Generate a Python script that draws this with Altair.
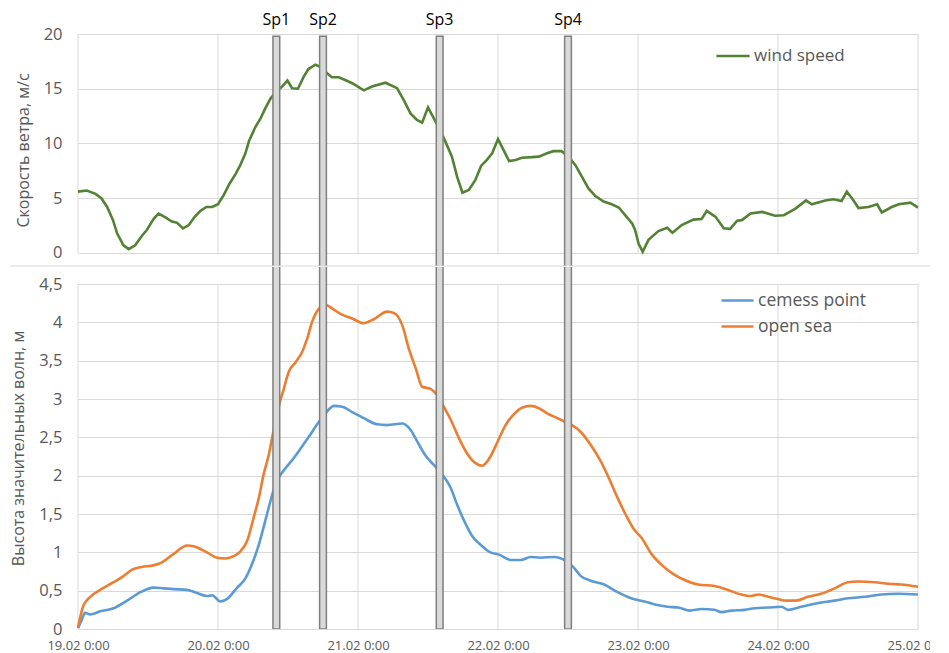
import altair as alt
import pandas as pd

# ---------------- data ----------------
DAY_HOURS = [0, 24, 48, 72, 96, 120, 144]
DAY_LABELS = ['19.02 0:00', '20.02 0:00', '21.02 0:00', '22.02 0:00',
              '23.02 0:00', '24.02 0:00', '25.02 0:00']

SP_NAMES = ['Sp1', 'Sp2', 'Sp3', 'Sp4']
SP_HOURS = [34, 42, 62, 84]

WIND_H = [0, 1.5, 3, 4, 5, 6, 6.7, 7.8, 8.7, 9.8, 11, 11.8, 13, 13.8, 15, 16, 17, 18, 19, 20,
          21, 22, 23, 24, 25, 26, 27, 27.8, 28.7, 29.3, 30.4, 31.3, 32.1, 33, 34.1, 35, 35.9,
          36.7, 37.7, 38.7, 39.5, 40.7, 41.5, 42.5, 43.5, 44.7, 45.8, 47, 47.5, 49, 50.4,
          52.7, 54.7, 55.8, 57, 58.1, 59, 60, 61, 62.1, 63, 64.1, 65, 65.9, 67, 68.1, 69.1,
          70.1, 71, 72, 73, 73.9, 75, 76.1, 77.8, 79, 80.4, 81.5, 82.9, 84.1, 85.3, 86.4,
          87.5, 88.7, 90.1, 91.5, 92.7, 93.8, 95, 95.5, 96.1, 96.8, 97.8, 99.5, 101, 101.9,
          103.5, 105.5, 106.9, 107.8, 109.3, 110.7, 111.8, 113, 113.8, 115.3, 117.3, 119.5,
          121, 123, 124.8, 125.8, 128.1, 129.5, 130.9, 131.8, 132.8, 133.8, 135.5, 137,
          137.8, 139.5, 140.7, 142.7, 144]
WIND_V = [5.6, 5.7, 5.4, 5.0, 4.2, 3.0, 1.8, 0.7, 0.35, 0.7, 1.6, 2.1, 3.15, 3.6, 3.25, 2.9,
          2.75, 2.25, 2.55, 3.3, 3.85, 4.2, 4.2, 4.45, 5.3, 6.35, 7.2, 8.0, 9.1, 10.2, 11.5,
          12.3, 13.2, 14.1, 14.8, 15.2, 15.75, 15.05, 15.0, 16.1, 16.8, 17.2, 17.0, 16.5,
          16.05, 16.05, 15.8, 15.5, 15.35, 14.85, 15.2, 15.55, 15.05, 14.0, 12.75, 12.15,
          11.9, 13.3, 12.3, 11.2, 10.15, 8.8, 6.95, 5.5, 5.75, 6.65, 7.95, 8.5, 9.1, 10.4,
          9.35, 8.4, 8.5, 8.7, 8.75, 8.8, 9.1, 9.3, 9.3, 8.8, 8.0, 6.95, 5.9, 5.2, 4.7, 4.45,
          4.15, 3.45, 2.7, 2.1, 0.85, 0.1, 1.2, 2.0, 2.3, 1.85, 2.55, 3.05, 3.1, 3.85, 3.3,
          2.25, 2.2, 2.95, 3.0, 3.6, 3.75, 3.4, 3.45, 4.05, 4.8, 4.45, 4.8, 4.9, 4.75, 5.6,
          4.9, 4.1, 4.2, 4.45, 3.7, 4.2, 4.45, 4.6, 4.15]

OPEN_H = [0, 0.5, 0.9, 2.1, 3.8, 6.1, 7.8, 9.2, 10.9, 12.9, 14.4, 16.4, 18.7, 19.8, 22.1,
          23.8, 25.3, 26.7, 27.8, 29, 30.1, 31, 31.8, 32.7, 33.6, 34.4, 35.3, 36.1, 37.3,
          38.4, 39.3, 40.1, 41.3, 42.4, 43.6, 45, 47, 48.9, 50.7, 53, 54.2, 55.6, 56.7,
          57.9, 59, 60.5, 61.6, 62.7, 63.9, 65.3, 66.7, 68.2, 69.3, 70.7, 71.9, 73.3, 74.7,
          76.2, 77.6, 79, 80.5, 81.9, 83.3, 84.7, 86.2, 87.9, 89.6, 91, 92.5, 93.9, 95.3,
          96.6, 98.3, 100, 102, 104, 106.3, 109.1, 111.4, 113.7, 115.4, 116.6, 118.3, 120,
          121.4, 123.1, 125.1, 127.4, 129.7, 132, 133.7, 136.6, 138.9, 141.1, 144]
OPEN_V = [0.02, 0.19, 0.3, 0.42, 0.51, 0.61, 0.69, 0.77, 0.81, 0.83, 0.87, 0.98, 1.09, 1.08,
          1.0, 0.93, 0.92, 0.95, 1.01, 1.15, 1.45, 1.71, 2.01, 2.27, 2.62, 2.9, 3.14, 3.35,
          3.48, 3.61, 3.79, 4.0, 4.18, 4.23, 4.18, 4.11, 4.05, 3.99, 4.04, 4.14, 4.12, 3.96,
          3.66, 3.4, 3.16, 3.13, 3.05, 2.9, 2.73, 2.49, 2.29, 2.16, 2.13, 2.25, 2.44, 2.66,
          2.8, 2.89, 2.91, 2.88, 2.81, 2.76, 2.71, 2.66, 2.57, 2.4, 2.19, 1.97, 1.71, 1.49,
          1.3, 1.19, 0.98, 0.84, 0.72, 0.64, 0.58, 0.56, 0.51, 0.45, 0.43, 0.45, 0.42, 0.39,
          0.37, 0.37, 0.42, 0.46, 0.53, 0.61, 0.62, 0.61, 0.59, 0.58, 0.55]

CEMESS_H = [0, 0.6, 1.2, 2.1, 3.8, 6.1, 8.4, 10.7, 12.9, 14.7, 16.4, 18.7, 20.4, 22.1, 23,
            24.4, 25.5, 27.3, 28.7, 29.8, 31, 32.1, 33, 33.8, 34.7, 35.6, 37, 38.4, 39.6, 41,
            42.4, 43.9, 45.3, 47, 49, 51.3, 53, 55.6, 57, 58.2, 59.6, 61, 62.5, 63.9, 65,
            66.2, 67.6, 69, 70.7, 72.2, 74.2, 75.9, 77.6, 79.3, 81.6, 83.6, 85, 86.2, 87.9,
            90.2, 92.5, 94.8, 97.1, 98.9, 101.1, 102.9, 104.9, 106.9, 109.1, 110.3, 112,
            114.3, 116, 118.3, 120.6, 121.7, 124, 126.3, 129.7, 132, 134.9, 137.7, 140.6, 144]
CEMESS_V = [0.01, 0.11, 0.21, 0.19, 0.23, 0.27, 0.37, 0.48, 0.54, 0.53, 0.52, 0.51, 0.47,
            0.43, 0.44, 0.36, 0.39, 0.54, 0.66, 0.84, 1.1, 1.41, 1.67, 1.88, 2.01, 2.1, 2.23,
            2.38, 2.51, 2.67, 2.81, 2.91, 2.9, 2.83, 2.75, 2.67, 2.66, 2.68, 2.6, 2.44, 2.26,
            2.14, 2.01, 1.84, 1.62, 1.41, 1.21, 1.1, 1.0, 0.97, 0.9, 0.9, 0.94, 0.93, 0.94,
            0.89, 0.8, 0.69, 0.63, 0.58, 0.48, 0.4, 0.36, 0.32, 0.29, 0.28, 0.24, 0.26, 0.25,
            0.22, 0.24, 0.25, 0.27, 0.28, 0.29, 0.25, 0.29, 0.33, 0.37, 0.4, 0.42, 0.45, 0.46,
            0.45]

WIND_TICKS = [0, 5, 10, 15, 20]
WAVE_TICKS = [0, 0.5, 1, 1.5, 2, 2.5, 3, 3.5, 4, 4.5]

# ---------------- styling ----------------
FONT = 'Open Sans'
GRID = '#d9d9d9'
TXT = '#595959'
GREEN = '#548235'
BLUE = '#5b9bd5'
ORANGE = '#ed7d31'
W = 840
H_TOP = 232
H_BOT = 362
TOP_MIN, TOP_MAX = -1.19, 20
BOT_MIN, BOT_MAX = 0, 4.722
BAR_HALF = 0.58

x_scale = alt.Scale(domain=[0, 144], nice=False, zero=False)
y_top_scale = alt.Scale(domain=[TOP_MIN, TOP_MAX], nice=False, zero=False)
y_bot_scale = alt.Scale(domain=[BOT_MIN, BOT_MAX], nice=False, zero=False)

days = pd.DataFrame({'h': DAY_HOURS, 'label': DAY_LABELS})
sp = pd.DataFrame({'name': SP_NAMES, 'h': SP_HOURS})
sp['x1'] = sp['h'] - BAR_HALF
sp['x2'] = sp['h'] + BAR_HALF
wind = pd.DataFrame({'h': WIND_H, 'v': WIND_V, 'series': 'wind speed'})
waves = pd.concat([
    pd.DataFrame({'h': CEMESS_H, 'v': CEMESS_V, 'series': 'cemess point'}),
    pd.DataFrame({'h': OPEN_H, 'v': OPEN_V, 'series': 'open sea'}),
])

label_js = '[' + ','.join("'%s'" % s for s in DAY_LABELS) + ']'

y_axis_common = dict(grid=True, gridColor=GRID, gridWidth=1, domain=False, ticks=False,
                     labelFontSize=16.5, labelColor=TXT, labelPadding=16,
                     titleFontSize=16, titleColor=TXT, titleFontWeight='normal',
                     titlePadding=12)

# ---------------- top panel ----------------
top_grid = alt.Chart(days).mark_rule(color=GRID, strokeWidth=1).encode(
    x=alt.X('h:Q', scale=x_scale, axis=None),
    y=alt.datum(0, scale=y_top_scale),
    y2=alt.datum(20),
)
top_line = alt.Chart(wind).mark_line(strokeWidth=2.6).encode(
    x=alt.X('h:Q', scale=x_scale, axis=None),
    y=alt.Y('v:Q', scale=y_top_scale,
            axis=alt.Axis(values=WIND_TICKS, title='Скорость ветра, м/с', **y_axis_common)),
    color=alt.Color('series:N', scale=alt.Scale(domain=['wind speed'], range=[GREEN]),
                    legend=alt.Legend(title=None, orient='none', legendX=637, legendY=4,
                                      symbolType='stroke', symbolSize=1100,
                                      symbolStrokeWidth=2.6, labelFontSize=17,
                                      labelColor=TXT, labelOffset=3, padding=0)),
)
top_bars = alt.Chart(sp).mark_rect(clip=True, fill='#d9d9d9', stroke='#7f7f7f',
                                   strokeWidth=1.5).encode(
    x=alt.X('x1:Q', scale=x_scale, axis=None),
    x2='x2:Q',
    y=alt.datum(19.8, scale=y_top_scale),
    y2=alt.datum(-5),
)
top_text = alt.Chart(sp).mark_text(fontSize=16, color='black', dy=-14,
                                   baseline='middle').encode(
    x=alt.X('h:Q', scale=x_scale, axis=None),
    y=alt.datum(20, scale=y_top_scale),
    text='name:N',
)
sep = alt.Chart(days.head(1)).mark_rule(color=GRID, strokeWidth=1).encode(
    y=alt.datum(TOP_MIN, scale=y_top_scale),
    x=alt.value(-68),
    x2=alt.value(W + 31),
)
top = alt.layer(top_grid, top_line, top_bars, top_text, sep).properties(width=W, height=H_TOP)

# ---------------- bottom panel ----------------
bot_grid = alt.Chart(days).mark_rule(color=GRID, strokeWidth=1).encode(
    x=alt.X('h:Q', scale=x_scale),
    y=alt.datum(0, scale=y_bot_scale),
    y2=alt.datum(4.5),
)
bot_lines = alt.Chart(waves).mark_line(strokeWidth=2.6, interpolate='monotone').encode(
    x=alt.X('h:Q', scale=x_scale,
            axis=alt.Axis(values=DAY_HOURS, title=None, grid=False, domain=False, ticks=False,
                          labelFontSize=13, labelColor=TXT, labelPadding=10,
                          labelOverlap=False, labelFlush=False,
                          labelExpr=label_js + '[round(datum.value/24)]')),
    y=alt.Y('v:Q', scale=y_bot_scale,
            axis=alt.Axis(values=WAVE_TICKS, title='Высота значительных волн, м',
                          labelExpr="replace(format(datum.value, '~g'), '.', ',')",
                          **y_axis_common)),
    color=alt.Color('series:N',
                    scale=alt.Scale(domain=['cemess point', 'open sea'], range=[BLUE, ORANGE]),
                    legend=alt.Legend(title=None, orient='none', legendX=642, legendY=16,
                                      symbolType='stroke', symbolSize=1024,
                                      symbolStrokeWidth=2.6, labelFontSize=17.5,
                                      labelColor=TXT, labelOffset=3, padding=0,
                                      rowPadding=0)),
)
bot_bars = alt.Chart(sp).mark_rect(clip=True, fill='#d9d9d9', stroke='#7f7f7f',
                                   strokeWidth=1.5).encode(
    x=alt.X('x1:Q', scale=x_scale),
    x2='x2:Q',
    y=alt.datum(0, scale=y_bot_scale),
    y2=alt.datum(8),
)
bottom = alt.layer(bot_grid, bot_lines, bot_bars).properties(width=W, height=H_BOT)

chart = alt.vconcat(top, bottom, spacing=0).resolve_scale(
    color='independent', x='shared'
).properties(
    padding={'left': 1, 'top': 4, 'right': -20, 'bottom': 0}
).configure(font=FONT).configure_view(stroke=None)

chart.save('out.html', embed_options={'renderer': 'svg', 'actions': False})
